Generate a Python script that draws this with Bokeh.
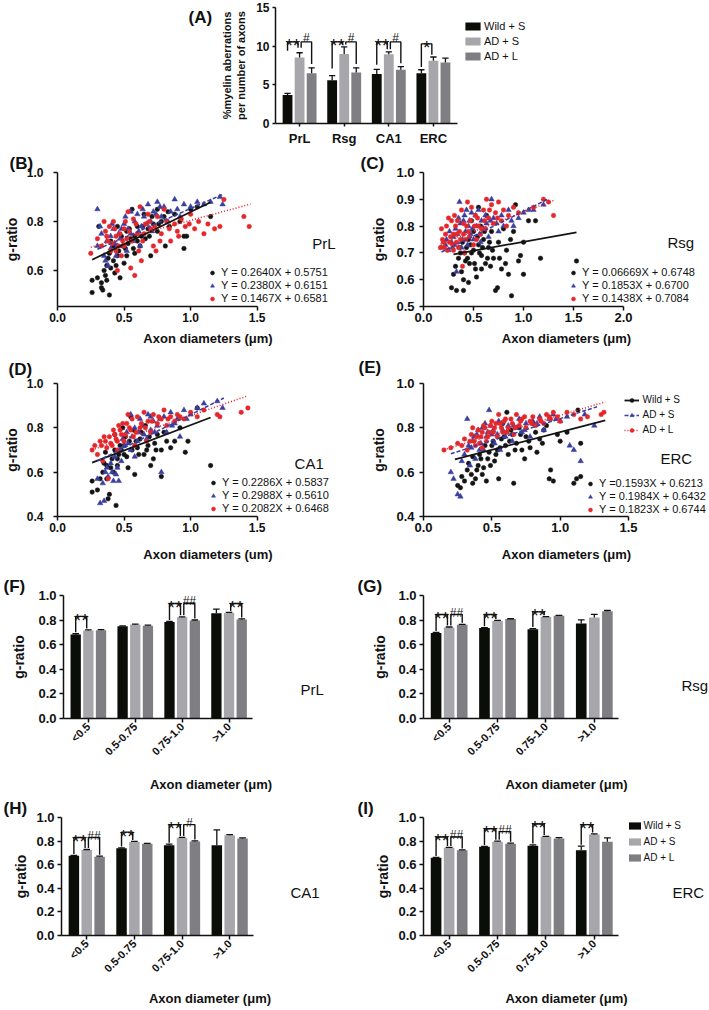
import math
from bokeh.plotting import figure
from bokeh.layouts import column, row
from bokeh.models import Legend, LegendItem, Label, FixedTicker, Range1d
from bokeh.embed import file_html
from bokeh.resources import INLINE
from bokeh.core.properties import value

FONT = "Liberation Sans"
INK = "#111111"
BAR_COLORS = ["#0b0d09", "#a6a6ab", "#7f7f83"]
SC_COLORS = ["#141414", "#3a3f9e", "#e5262b"]
GROUPS = ["Wild + S", "AD + S", "AD + L"]

# ---------------- Panel A: % myelin aberrations ----------------
regions = ["PrL", "Rsg", "CA1", "ERC"]
a_wild = [3.7, 5.6, 6.4, 6.5]
a_wild_err = [0.2, 0.6, 0.6, 0.45]
a_ads = [8.55, 9.0, 8.95, 8.1]
a_ads_err = [0.6, 0.9, 0.3, 0.5]
a_adl = [6.5, 6.6, 6.95, 7.9]
a_adl_err = [0.7, 0.6, 0.4, 0.55]
a_yticks = [0, 5, 10, 15]
a_ylabels = ["0", "5", "10", "15"]
# (group, bar i, bar j, symbol, bracket top, left leg end, right leg end)
a_sig = [(0, 0, 1, "**", 10.55, 9.4, 9.8), (0, 1, 2, "#", 10.55, 9.8, 7.7),
         (1, 0, 1, "**", 10.55, 7.1, 10.2), (1, 1, 2, "#", 10.55, 10.2, 7.7),
         (2, 0, 1, "**", 10.55, 7.6, 9.6), (2, 1, 2, "#", 10.55, 9.6, 7.8),
         (3, 0, 1, "*", 10.3, 7.3, 8.9)]

# ---------------- Scatter panels (g-ratio vs axon diameter) ----------------
b_wild = [(0.26,0.51),(0.26,0.56),(0.30,0.57),(0.33,0.55),(0.33,0.53),(0.34,0.52),(0.37,0.56),(0.39,0.50),
          (0.35,0.60),(0.37,0.62),(0.40,0.61),(0.38,0.65),(0.42,0.64),(0.44,0.62),(0.47,0.57),(0.50,0.63),
          (0.52,0.66),(0.46,0.68),(0.49,0.70),(0.53,0.71),(0.57,0.69),(0.60,0.72),(0.63,0.74),(0.66,0.73),
          (0.68,0.77),(0.72,0.79),(0.75,0.76),(0.78,0.80),(0.80,0.82),(0.84,0.78),(0.88,0.83),(0.92,0.80),
          (0.95,0.74),(0.97,0.74),(1.05,0.86),(1.00,0.85),(0.95,0.69),(0.81,0.70),(0.56,0.85),(0.45,0.78),
          (0.60,0.78),(0.70,0.66),(0.52,0.76),(0.58,0.67),(0.31,0.78),(0.40,0.72),(0.75,0.85),(1.15,0.82),
          (0.65,0.83),(0.55,0.73),(0.42,0.70),(0.45,0.66),(0.48,0.74),(0.51,0.69),(0.54,0.77),(0.58,0.74),
          (0.62,0.70),(0.64,0.78),(0.69,0.74),(0.71,0.82),(0.76,0.79),(0.83,0.84),(0.39,0.67),(0.36,0.58),
          (0.43,0.59)]
b_ads = [(0.30,0.85),(0.32,0.78),(0.30,0.70),(0.35,0.66),(0.38,0.62),(0.40,0.74),(0.42,0.77),(0.45,0.70),
         (0.47,0.73),(0.50,0.79),(0.52,0.68),(0.55,0.75),(0.58,0.80),(0.60,0.83),(0.63,0.78),(0.65,0.82),
         (0.68,0.87),(0.70,0.80),(0.72,0.84),(0.75,0.88),(0.78,0.82),(0.80,0.86),(0.83,0.80),(0.85,0.84),
         (0.88,0.89),(0.90,0.85),(0.92,0.82),(0.95,0.87),(1.00,0.86),(1.05,0.88),(1.10,0.87),(1.15,0.88),
         (1.22,0.90),(1.24,0.87),(0.36,0.64),(0.44,0.66),(0.55,0.84),(0.62,0.70),(0.48,0.77),(0.40,0.69),
         (0.37,0.72),(0.41,0.79),(0.43,0.71),(0.46,0.75),(0.49,0.70),(0.51,0.82),(0.53,0.77),(0.57,0.72),
         (0.61,0.76),(0.64,0.85),(0.67,0.79),(0.71,0.76),(0.74,0.83),(0.77,0.86),(0.33,0.75)]
b_adl = [(0.25,0.67),(0.30,0.73),(0.33,0.70),(0.36,0.76),(0.38,0.72),(0.40,0.68),(0.42,0.80),(0.44,0.74),
         (0.46,0.70),(0.48,0.66),(0.50,0.77),(0.52,0.73),(0.55,0.61),(0.57,0.81),(0.60,0.75),(0.62,0.86),
         (0.64,0.72),(0.66,0.79),(0.68,0.83),(0.70,0.77),(0.72,0.70),(0.75,0.82),(0.78,0.75),(0.80,0.85),
         (0.82,0.80),(0.85,0.72),(0.88,0.79),(0.90,0.76),(0.93,0.81),(0.96,0.78),(1.00,0.83),(1.03,0.77),
         (1.06,0.80),(1.10,0.75),(1.13,0.79),(1.18,0.77),(1.22,0.78),(1.25,0.89),(1.40,0.82),(1.44,0.78),
         (0.45,0.60),(0.58,0.58),(0.63,0.64),(0.35,0.80),(0.53,0.84),(0.74,0.68),(0.43,0.77),(0.49,0.72),
         (0.37,0.74),(0.39,0.78),(0.41,0.71),(0.44,0.68),(0.47,0.75),(0.50,0.70),(0.51,0.80),(0.54,0.76),
         (0.56,0.72),(0.59,0.79),(0.61,0.68),(0.65,0.75),(0.69,0.80),(0.73,0.78),(0.77,0.72),(0.84,0.77),
         (0.91,0.74),(0.99,0.79)]
b_fits = [(0.2640, 0.5751, 0.26, 1.15), (0.2380, 0.6151, 0.30, 1.25), (0.1467, 0.6581, 0.25, 1.45)]
b_eqs = ["Y = 0.2640X + 0.5751", "Y = 0.2380X + 0.6151", "Y = 0.1467X + 0.6581"]

c_wild = [(0.28,0.57),(0.30,0.62),(0.32,0.65),(0.33,0.56),(0.35,0.68),(0.37,0.70),(0.38,0.63),(0.40,0.56),
          (0.40,0.60),(0.42,0.67),(0.43,0.72),(0.45,0.75),(0.46,0.66),(0.48,0.70),(0.50,0.78),(0.52,0.64),
          (0.53,0.61),(0.55,0.73),(0.57,0.80),(0.58,0.69),(0.60,0.75),(0.62,0.66),(0.63,0.84),(0.65,0.72),
          (0.67,0.65),(0.68,0.78),(0.70,0.68),(0.72,0.56),(0.74,0.57),(0.75,0.74),(0.78,0.64),(0.80,0.79),
          (0.82,0.66),(0.85,0.62),(0.87,0.75),(0.88,0.54),(0.90,0.78),(0.92,0.88),(0.95,0.67),(0.97,0.69),
          (1.00,0.62),(1.00,0.74),(1.05,0.82),(1.12,0.82),(1.17,0.68),(1.53,0.67),(0.48,0.82),(0.55,0.87),
          (0.58,0.64),(0.45,0.59),(0.36,0.72),(0.39,0.74),(0.41,0.70),(0.44,0.68),(0.47,0.73),(0.50,0.71),
          (0.51,0.66),(0.54,0.76),(0.56,0.70),(0.59,0.72),(0.61,0.78),(0.64,0.68),(0.66,0.74),(0.69,0.71),
          (0.76,0.68),(0.83,0.71)]
c_ads = [(0.18,0.72),(0.22,0.73),(0.25,0.71),(0.28,0.74),(0.30,0.76),(0.32,0.79),(0.35,0.83),(0.36,0.89),
         (0.40,0.82),(0.42,0.78),(0.45,0.80),(0.48,0.85),(0.50,0.75),(0.52,0.84),(0.55,0.86),(0.58,0.82),
         (0.60,0.79),(0.63,0.81),(0.65,0.76),(0.68,0.90),(0.70,0.83),(0.73,0.81),(0.75,0.78),(0.78,0.84),
         (0.80,0.80),(0.85,0.86),(0.88,0.82),(0.90,0.80),(0.95,0.83),(1.00,0.85),(1.05,0.86),(1.10,0.86),
         (1.20,0.88),(0.33,0.63),(0.38,0.72),(0.47,0.77),(0.57,0.74),(0.43,0.86),(0.23,0.75),(0.26,0.78),
         (0.29,0.72),(0.31,0.73),(0.34,0.77),(0.37,0.81),(0.39,0.75),(0.41,0.84),(0.44,0.73),(0.46,0.82),
         (0.49,0.79),(0.53,0.80),(0.56,0.77),(0.62,0.84),(0.67,0.82)]
c_adl = [(0.17,0.72),(0.18,0.79),(0.20,0.74),(0.22,0.77),(0.24,0.71),(0.25,0.83),(0.28,0.82),(0.29,0.73),
         (0.30,0.77),(0.32,0.80),(0.33,0.74),(0.35,0.72),(0.36,0.78),(0.38,0.86),(0.39,0.65),(0.40,0.81),
         (0.42,0.75),(0.44,0.89),(0.45,0.78),(0.47,0.82),(0.50,0.73),(0.52,0.84),(0.55,0.80),(0.57,0.77),
         (0.60,0.86),(0.62,0.79),(0.65,0.83),(0.68,0.88),(0.70,0.81),(0.72,0.85),(0.75,0.89),(0.78,0.82),
         (0.80,0.86),(0.83,0.80),(0.85,0.84),(0.90,0.87),(0.95,0.85),(1.10,0.87),(1.20,0.90),(1.25,0.89),
         (1.30,0.84),(0.27,0.76),(0.41,0.70),(0.53,0.75),(0.63,0.90),(0.31,0.84),(0.19,0.75),(0.21,0.72),
         (0.23,0.80),(0.26,0.74),(0.30,0.71),(0.33,0.77),(0.34,0.82),(0.37,0.75),(0.40,0.77),(0.43,0.80),
         (0.46,0.76),(0.48,0.87),(0.51,0.80),(0.54,0.83),(0.58,0.79),(0.61,0.82),(0.66,0.86),(0.74,0.83)]
c_fits = [(0.06669, 0.6748, 0.30, 1.53), (0.1853, 0.6700, 0.18, 1.25), (0.1438, 0.7084, 0.17, 1.30)]
c_eqs = ["Y = 0.06669X + 0.6748", "Y = 0.1853X + 0.6700", "Y = 0.1438X + 0.7084"]

d_wild = [(0.26,0.51),(0.26,0.56),(0.30,0.52),(0.32,0.57),(0.34,0.60),(0.35,0.64),(0.37,0.57),(0.38,0.48),
          (0.39,0.50),(0.40,0.62),(0.42,0.60),(0.44,0.45),(0.45,0.66),(0.46,0.68),(0.48,0.70),(0.50,0.72),
          (0.52,0.67),(0.54,0.74),(0.55,0.85),(0.57,0.79),(0.58,0.59),(0.60,0.71),(0.62,0.75),(0.65,0.68),
          (0.68,0.72),(0.70,0.63),(0.72,0.66),(0.75,0.77),(0.78,0.58),(0.78,0.70),(0.80,0.78),(0.85,0.71),
          (0.88,0.74),(0.92,0.80),(0.96,0.69),(0.98,0.74),(1.05,0.89),(1.15,0.63),(0.49,0.80),(0.43,0.77),
          (0.66,0.81),(0.36,0.69),(0.53,0.62),(0.73,0.73),(0.41,0.66),(0.43,0.70),(0.45,0.63),(0.47,0.72),
          (0.50,0.68),(0.51,0.76),(0.56,0.70),(0.59,0.74),(0.61,0.68),(0.63,0.78),(0.67,0.70),(0.69,0.76),
          (0.74,0.70),(0.82,0.74),(0.37,0.63)]
d_ads = [(0.30,0.57),(0.32,0.46),(0.35,0.47),(0.36,0.60),(0.38,0.58),(0.40,0.64),(0.42,0.56),(0.44,0.59),
         (0.46,0.56),(0.48,0.65),(0.50,0.72),(0.52,0.78),(0.55,0.70),(0.58,0.80),(0.60,0.74),(0.62,0.84),
         (0.65,0.77),(0.68,0.86),(0.70,0.79),(0.72,0.83),(0.75,0.81),(0.78,0.60),(0.80,0.85),(0.82,0.78),
         (0.85,0.87),(0.88,0.82),(0.90,0.84),(0.95,0.88),(1.00,0.86),(1.05,0.89),(1.10,0.91),(1.20,0.92),
         (1.24,0.89),(0.55,0.86),(0.45,0.62),(0.70,0.85),(0.92,0.76),(0.58,0.67),(0.34,0.55),(0.37,0.62),
         (0.41,0.60),(0.43,0.67),(0.47,0.70),(0.49,0.75),(0.53,0.73),(0.56,0.76),(0.61,0.78),(0.64,0.81),
         (0.67,0.75),(0.73,0.78),(0.77,0.84),(0.86,0.81),(0.97,0.84)]
d_adl = [(0.26,0.70),(0.28,0.72),(0.30,0.68),(0.32,0.74),(0.35,0.76),(0.37,0.71),(0.38,0.57),(0.40,0.73),
         (0.42,0.79),(0.44,0.75),(0.46,0.81),(0.48,0.77),(0.50,0.74),(0.52,0.82),(0.55,0.79),(0.57,0.76),
         (0.60,0.85),(0.62,0.80),(0.65,0.87),(0.68,0.83),(0.70,0.78),(0.72,0.86),(0.75,0.82),(0.78,0.84),
         (0.80,0.88),(0.82,0.81),(0.85,0.85),(0.88,0.83),(0.90,0.86),(0.95,0.84),(1.00,0.87),(1.05,0.85),
         (1.10,0.88),(1.20,0.86),(1.22,0.85),(1.38,0.87),(1.43,0.89),(0.45,0.70),(0.58,0.72),(0.67,0.74),
         (0.34,0.65),(0.53,0.86),(0.33,0.72),(0.36,0.74),(0.39,0.76),(0.41,0.72),(0.43,0.77),(0.45,0.74),
         (0.47,0.79),(0.49,0.82),(0.51,0.77),(0.54,0.80),(0.56,0.84),(0.59,0.78),(0.63,0.82),(0.66,0.80),
         (0.71,0.83),(0.76,0.85),(0.83,0.84),(0.92,0.85)]
d_fits = [(0.2286, 0.5837, 0.26, 1.15), (0.2988, 0.5610, 0.30, 1.25), (0.2082, 0.6468, 0.26, 1.43)]
d_eqs = ["Y = 0.2286X + 0.5837", "Y = 0.2988X + 0.5610", "Y = 0.2082X + 0.6468"]

e_wild = [(0.25,0.54),(0.27,0.53),(0.28,0.58),(0.30,0.56),(0.32,0.61),(0.33,0.64),(0.35,0.59),(0.36,0.55),
          (0.38,0.57),(0.40,0.63),(0.42,0.66),(0.44,0.62),(0.46,0.56),(0.48,0.69),(0.50,0.72),(0.52,0.65),
          (0.54,0.70),(0.55,0.57),(0.57,0.75),(0.60,0.72),(0.61,0.87),(0.62,0.68),(0.65,0.77),(0.66,0.55),
          (0.68,0.73),(0.70,0.80),(0.72,0.70),(0.75,0.76),(0.78,0.71),(0.80,0.82),(0.83,0.69),(0.85,0.75),
          (0.88,0.79),(0.90,0.81),(0.92,0.57),(0.93,0.61),(0.95,0.56),(0.98,0.77),(1.00,0.74),(1.05,0.78),
          (1.10,0.55),(1.12,0.57),(1.15,0.73),(1.15,0.58),(1.13,0.88),(0.58,0.82),(0.45,0.72),(0.74,0.66),
          (0.36,0.67),(0.64,0.79),(0.39,0.61),(0.41,0.68),(0.43,0.59),(0.47,0.66),(0.49,0.63),(0.51,0.74),
          (0.53,0.68),(0.56,0.71),(0.59,0.76),(0.63,0.74),(0.67,0.70),(0.71,0.77),(0.77,0.74),(0.82,0.78),
          (0.87,0.73)]
e_ads = [(0.20,0.60),(0.22,0.57),(0.25,0.50),(0.27,0.49),(0.28,0.65),(0.30,0.68),(0.32,0.84),(0.35,0.71),
         (0.37,0.76),(0.38,0.66),(0.40,0.79),(0.42,0.73),(0.44,0.70),(0.45,0.82),(0.48,0.88),(0.50,0.77),
         (0.52,0.73),(0.55,0.83),(0.58,0.79),(0.60,0.76),(0.62,0.81),(0.65,0.74),(0.68,0.80),(0.70,0.84),
         (0.72,0.78),(0.75,0.82),(0.78,0.76),(0.80,0.83),(0.85,0.85),(0.88,0.79),(0.92,0.84),(0.95,0.86),
         (1.00,0.83),(1.05,0.85),(1.07,0.72),(1.10,0.70),(1.15,0.65),(1.18,0.86),(1.25,0.81),(0.34,0.63),
         (0.56,0.70),(0.47,0.78),(0.33,0.72),(0.36,0.74),(0.39,0.77),(0.41,0.70),(0.43,0.80),(0.46,0.76),
         (0.49,0.81),(0.51,0.79),(0.54,0.77),(0.57,0.82),(0.61,0.78),(0.66,0.81),(0.74,0.79),(0.83,0.82),
         (0.97,0.84)]
e_adl = [(0.15,0.70),(0.20,0.71),(0.25,0.73),(0.28,0.72),(0.30,0.75),(0.32,0.70),(0.35,0.77),(0.37,0.74),
         (0.38,0.72),(0.40,0.79),(0.42,0.76),(0.44,0.81),(0.46,0.74),(0.48,0.78),(0.50,0.83),(0.52,0.80),
         (0.54,0.76),(0.56,0.82),(0.58,0.78),(0.60,0.84),(0.62,0.80),(0.65,0.82),(0.68,0.86),(0.70,0.81),
         (0.72,0.84),(0.75,0.80),(0.78,0.83),(0.80,0.85),(0.82,0.81),(0.85,0.84),(0.88,0.82),(0.90,0.86),
         (0.93,0.84),(0.95,0.87),(0.98,0.85),(1.00,0.83),(1.05,0.87),(1.10,0.86),(1.15,0.84),(1.20,0.85),
         (1.30,0.86),(1.32,0.87),(0.43,0.71),(0.36,0.80),(0.55,0.86),(0.66,0.77),(0.34,0.74),(0.39,0.76),
         (0.41,0.73),(0.43,0.78),(0.45,0.80),(0.47,0.76),(0.49,0.81),(0.51,0.78),(0.53,0.82),(0.57,0.80),
         (0.59,0.83),(0.61,0.78),(0.64,0.84),(0.67,0.80),(0.71,0.83),(0.74,0.85),(0.79,0.82),(0.86,0.83),
         (0.92,0.85)]
e_fits = [(0.1593, 0.6213, 0.23, 1.33), (0.1984, 0.6432, 0.20, 1.27), (0.1823, 0.6744, 0.15, 1.33)]
e_eqs = ["Y =0.1593X + 0.6213", "Y = 0.1984X + 0.6432", "Y = 0.1823X + 0.6744"]

# ---------------- Bar panels F-I (g-ratio by axon diameter bin) ----------------
bins = ["<0.5", "0.5-0.75", "0.75-1.0", ">1.0"]
f_wild = [0.683, 0.750, 0.784, 0.855]; f_wild_err = [0.006, 0.003, 0.005, 0.035]
f_ads = [0.716, 0.764, 0.823, 0.858];  f_ads_err = [0.004, 0.004, 0.004, 0.004]
f_adl = [0.718, 0.755, 0.797, 0.805];  f_adl_err = [0.004, 0.004, 0.004, 0.005]
g_wild = [0.695, 0.735, 0.725, 0.772]; g_wild_err = [0.005, 0.004, 0.006, 0.030]
g_ads = [0.740, 0.793, 0.825, 0.822];  g_ads_err = [0.004, 0.004, 0.004, 0.025]
g_adl = [0.762, 0.808, 0.835, 0.872];  g_adl_err = [0.004, 0.003, 0.004, 0.006]
h_wild = [0.675, 0.740, 0.765, 0.765]; h_wild_err = [0.004, 0.003, 0.010, 0.130]
h_ads = [0.725, 0.793, 0.827, 0.850];  h_ads_err = [0.004, 0.004, 0.004, 0.005]
h_adl = [0.668, 0.778, 0.797, 0.822];  h_adl_err = [0.004, 0.003, 0.005, 0.005]
i_wild = [0.658, 0.752, 0.760, 0.723]; i_wild_err = [0.004, 0.003, 0.008, 0.035]
i_ads = [0.743, 0.795, 0.836, 0.855];  i_ads_err = [0.004, 0.004, 0.004, 0.006]
i_adl = [0.722, 0.778, 0.823, 0.795];  i_adl_err = [0.004, 0.004, 0.006, 0.032]
f_sig = [(0, 0, 1, "**", 0.83, None, None), (2, 0, 1, "**", 0.935, None, None),
         (2, 1, 2, "##", 0.935, None, None), (3, 1, 2, "**", 0.935, None, None)]
g_sig = [(0, 0, 1, "**", 0.845, None, None), (0, 1, 2, "##", 0.845, None, None),
         (1, 0, 1, "**", 0.845, None, None), (2, 0, 1, "**", 0.867, None, None)]
h_sig = [(0, 0, 1, "**", 0.83, None, None), (0, 1, 2, "##", 0.83, None, None),
         (1, 0, 1, "**", 0.876, None, None), (2, 0, 1, "**", 0.94, None, None),
         (2, 1, 2, "#", 0.94, None, None)]
i_sig = [(0, 0, 1, "**", 0.835, None, None), (0, 1, 2, "##", 0.835, None, None),
         (1, 0, 1, "**", 0.905, None, None), (1, 1, 2, "##", 0.88, None, None),
         (2, 0, 1, "**", 0.945, None, None), (3, 0, 1, "**", 0.94, None, None)]
g_ticks = [0.0, 0.2, 0.4, 0.6, 0.8, 1.0]
g_tick_labels = ["0.0", "0.2", "0.4", "0.6", "0.8", "1.0"]


# ---------------- helpers ----------------
def make_fig(geom, xr, yr):
    """Frame starts at the axis position and runs to the right edge of the figure;
    the x axis itself is bounded to xr."""
    L, T, W, H, FL, FT, FW, FH = geom
    FWx = L + W - FL
    xr_full = (xr[0], xr[0] + (xr[1] - xr[0]) * FWx / FW)
    p = figure(width=W, height=H, x_range=Range1d(*xr_full), y_range=Range1d(*yr),
               output_backend="svg", toolbar_location=None,
               min_border_left=FL - L, min_border_top=FT - T,
               min_border_right=0, min_border_bottom=T + H - FT - FH)
    p.outline_line_color = None
    p.xgrid.visible = False
    p.ygrid.visible = False
    p.border_fill_color = "white"
    p.background_fill_color = "white"
    p.xaxis[0].bounds = xr

    def conv(X, Y):
        return (xr[0] + (X - FL) / FW * (xr[1] - xr[0]),
                yr[1] - (Y - FT) / FH * (yr[1] - yr[0]))
    return p, conv


def style_axis(ax, tick_size, tick_std, label_size="13px", label_std=0, tick_out=4):
    ax.axis_line_color = INK
    ax.axis_line_width = 1.5
    ax.major_tick_line_color = INK
    ax.major_tick_line_width = 1.5
    ax.major_tick_out = tick_out
    ax.major_tick_in = 0
    ax.minor_tick_line_color = None
    ax.major_label_text_font = FONT
    ax.major_label_text_font_style = "bold"
    ax.major_label_text_font_size = tick_size
    ax.major_label_text_color = INK
    ax.major_label_standoff = tick_std
    ax.axis_label_text_font = FONT
    ax.axis_label_text_font_style = "bold"
    ax.axis_label_text_font_size = label_size
    ax.axis_label_text_color = INK
    ax.axis_label_standoff = label_std


def set_ticks(ax, ticks, labels):
    ax.ticker = FixedTicker(ticks=ticks)
    ax.major_label_overrides = {t: s for t, s in zip(ticks, labels)}


def add_text(p, conv, X, Y, text, size, bold=False, align="left", baseline="middle"):
    x, y = conv(X, Y)
    p.add_layout(Label(x=x, y=y, text=text, text_font=FONT, text_font_size=size,
                       text_font_style="bold" if bold else "normal", text_color=INK,
                       text_align=align, text_baseline=baseline))


def set_letter(p, geom, letter, X, standoff):
    L, T, W, H, FL, FT, FW, FH = geom
    p.title.text = letter
    p.title.align = "left"
    p.title.offset = X - FL
    p.title.standoff = standoff
    p.title.text_font = FONT
    p.title.text_font_size = "17px"
    p.title.text_font_style = "bold"
    p.title.text_color = INK


def add_legend(p, geom, items, left, top, pitch, gw, gh, std, size):
    L, T, W, H, FL, FT, FW, FH = geom
    n = len(items)
    leg = Legend(items=items, location=(left - FL, (FT + FH) - (top + n * pitch)),
                 padding=0, margin=0, spacing=0, glyph_width=gw, glyph_height=gh,
                 label_height=pitch, label_standoff=std, label_text_font=FONT,
                 label_text_font_size=size, label_text_color=INK,
                 border_line_color=None, background_fill_alpha=0)
    p.add_layout(leg)


OFFS = [-0.27, 0.0, 0.27]
BW = 0.22


def draw_bars(p, vals, errs, cap):
    rs = []
    for k in range(3):
        xs = [g + OFFS[k] for g in range(len(vals[k]))]
        r = p.vbar(x=xs, top=vals[k], bottom=0, width=BW, fill_color=BAR_COLORS[k], line_color=None)
        ys = [v + e for v, e in zip(vals[k], errs[k])]
        p.segment(x0=xs, y0=vals[k], x1=xs, y1=ys, line_color=INK, line_width=1.3)
        p.segment(x0=[x - cap for x in xs], y0=ys, x1=[x + cap for x in xs], y1=ys,
                  line_color=INK, line_width=1.3)
        rs.append(r)
    return rs


def draw_sig(p, vals, errs, specs, gap, star_size, hash_size, star_off, hash_off):
    mxs, mys = [], []
    st_x, st_y, st_t, hs_x, hs_y, hs_t = [], [], [], [], [], []
    for (g, i, j, sym, top, yl, yr_) in specs:
        xl = g + OFFS[i] + (0.035 if i == 1 else 0.0)
        xr_ = g + OFFS[j] - (0.035 if j == 1 else 0.0)
        if yl is None:
            yl = vals[i][g] + errs[i][g] + gap
        if yr_ is None:
            yr_ = vals[j][g] + errs[j][g] + gap
        mxs.append([xl, xl, xr_, xr_])
        mys.append([yl, top, top, yr_])
        if "*" in sym:
            st_x.append((xl + xr_) / 2); st_y.append(top); st_t.append(sym)
        else:
            hs_x.append((xl + xr_) / 2); hs_y.append(top); hs_t.append(sym)
    p.multi_line(xs=mxs, ys=mys, line_color=INK, line_width=1.4)
    if st_x:
        p.text(x=st_x, y=st_y, text=st_t, text_font=value(FONT), text_font_size=star_size,
               text_align="center", text_baseline="alphabetic", y_offset=star_off, text_color=INK)
    if hs_x:
        p.text(x=hs_x, y=hs_y, text=hs_t, text_font=value(FONT), text_font_size=hash_size,
               text_align="center", text_baseline="alphabetic", y_offset=hash_off, text_color=INK)


# ---------------- Panel A ----------------
pAl = figure(width=215, height=149, x_range=Range1d(0, 215), y_range=Range1d(149, 0),
             x_axis_type=None, y_axis_type=None, output_backend="svg", toolbar_location=None,
             min_border=0)
pAl.outline_line_color = None
pAl.xgrid.visible = False
pAl.ygrid.visible = False
pAl.text(x=[188], y=[13], text=["(A)"], text_font=value(FONT), text_font_size="17px",
         text_font_style="bold", text_align="left", text_baseline="middle", text_color=INK)

geomA = (215, 0, 494, 149, 275, 7, 182, 116)
pA, cA = make_fig(geomA, (-0.54, 3.54), (0, 15))
a_vals = [a_wild, a_ads, a_adl]
a_errs = [a_wild_err, a_ads_err, a_adl_err]
a_rs = draw_bars(pA, a_vals, a_errs, 0.07)
draw_sig(pA, a_vals, a_errs, a_sig, 0.3, "19px", "12px", 4, -4)
style_axis(pA.xaxis[0], "13px", 4, tick_out=3)
style_axis(pA.yaxis[0], "12px", 3, "11px", 6, tick_out=3)
set_ticks(pA.xaxis[0], [0, 1, 2, 3], regions)
set_ticks(pA.yaxis[0], a_yticks, a_ylabels)
pA.yaxis[0].axis_label = "%myelin aberrations\nper number of axons"
add_legend(pA, geomA, [LegendItem(label=GROUPS[k], renderers=[a_rs[k]]) for k in range(3)],
           463, 18.5, 15, 19, 10, 2, "11px")


# ---------------- scatter panels ----------------
def scatter_panel(geom, xr, yr, xt, xtl, yt, ytl, series, fits, eqs, eq_left, eq_top, eq_pitch, eq_size,
                  name, name_xy, letter, letter_x, letter_std, xlabel, tick_size, y_std, y_lstd, x_lstd):
    p, conv = make_fig(geom, xr, yr)
    sc = []
    markers = ["circle", "triangle", "circle"]
    sizes = [4.5, 5.5, 4.5]
    for k in range(3):
        xs = [t[0] for t in series[k]]
        ys = [t[1] for t in series[k]]
        sc.append(p.scatter(xs, ys, marker=markers[k], size=sizes[k], fill_color=SC_COLORS[k],
                            line_color=SC_COLORS[k], line_width=0.5))
    dashes = ["solid", "4 2", "1 2"]
    widths = [1.8, 1.5, 1.6]
    lines = []
    for k in range(3):
        s, b, x0, x1 = fits[k]
        lines.append(p.line([x0, x1], [s * x0 + b, s * x1 + b], line_color=SC_COLORS[k],
                            line_width=widths[k], line_dash=dashes[k]))
    style_axis(p.xaxis[0], tick_size, 2, "13px", x_lstd)
    style_axis(p.yaxis[0], tick_size, y_std, "14px", y_lstd)
    set_ticks(p.xaxis[0], xt, xtl)
    set_ticks(p.yaxis[0], yt, ytl)
    p.xaxis[0].axis_label = xlabel
    p.yaxis[0].axis_label = "g-ratio"
    add_legend(p, geom, [LegendItem(label=eqs[k], renderers=[sc[k]]) for k in range(3)],
               eq_left, eq_top, eq_pitch, 10, 13, 4, eq_size)
    add_text(p, conv, name_xy[0], name_xy[1], name, "15px")
    set_letter(p, geom, letter, letter_x, letter_std)
    return p, sc, lines


xt15 = [0.0, 0.5, 1.0, 1.5]; xtl15 = ["0.0", "0.5", "1.0", "1.5"]
xt20 = [0.0, 0.5, 1.0, 1.5, 2.0]; xtl20 = ["0.0", "0.5", "1.0", "1.5", "2.0"]

geomB = (0, 149, 358, 199, 52, 171, 203, 135)
pB, _, _ = scatter_panel(geomB, (0, 1.5), (0.453, 1.0), xt15, xtl15, [0.6, 0.8, 1.0], ["0.6", "0.8", "1.0"],
                         [b_wild, b_ads, b_adl], b_fits, b_eqs, 202, 265.5, 13, "11px",
                         "PrL", (311, 243), "(B)", 4, 0, "Axon diameters (\u03bcm)", "12px", 10, 4, 6)

geomC = (358, 149, 351, 199, 423, 172, 200, 134)
pC, _, _ = scatter_panel(geomC, (0, 2.0), (0.5, 1.0), xt20, xtl20,
                         [0.5, 0.6, 0.7, 0.8, 0.9, 1.0], ["0.5", "0.6", "0.7", "0.8", "0.9", "1.0"],
                         [c_wild, c_ads, c_adl], c_fits, c_eqs, 568, 265.5, 13, "11px",
                         "Rsg", (667, 242), "(C)", 360, 0, "Axon diameters (\u03bcm)", "13px", 5, 6, 6)

geomD = (0, 348, 358, 216, 52, 379, 203, 138)
pD, _, _ = scatter_panel(geomD, (0, 1.5), (0.4, 1.0), xt15, xtl15, [0.4, 0.6, 0.8, 1.0],
                         ["0.4", "0.6", "0.8", "1.0"],
                         [d_wild, d_ads, d_adl], d_fits, d_eqs, 203, 476.5, 13, "11px",
                         "CA1", (293, 462), "(D)", 3, 10, "Axon diameters (um)", "12px", 10, 4, 12)

geomE = (358, 348, 351, 216, 423, 382, 205, 135)
pE, scE, linesE = scatter_panel(geomE, (0, 1.5), (0.4, 1.0), xt15, xtl15, [0.4, 0.6, 0.8, 1.0],
                                ["0.4", "0.6", "0.8", "1.0"],
                                [e_wild, e_ads, e_adl], e_fits, e_eqs, 585, 477.5, 13, "11px",
                                "ERC", (660, 458), "(E)", 358, 14, "Axon diameters (\u03bcm)", "13px", 5, 6, 12)
add_legend(pE, geomE, [LegendItem(label=GROUPS[k], renderers=[linesE[k], scE[k]]) for k in range(3)],
           623.5, 393, 15, 15, 10, 4, "10px")


# ---------------- bar panels ----------------
def bar_panel(geom, vals, errs, sig, name, name_xy, letter, letter_x, y_std, y_lstd, x_lstd):
    p, conv = make_fig(geom, (-0.53, 3.5), (0, 1.0))
    rs = draw_bars(p, vals, errs, 0.07)
    draw_sig(p, vals, errs, sig, 0.012, "19px", "12px", 4, -2)
    style_axis(p.xaxis[0], "11px", 2, "13px", x_lstd)
    style_axis(p.yaxis[0], "13px", y_std, "14px", y_lstd)
    set_ticks(p.xaxis[0], [0, 1, 2, 3], bins)
    set_ticks(p.yaxis[0], g_ticks, g_tick_labels)
    p.xaxis[0].major_label_orientation = math.pi / 4
    p.xaxis[0].axis_label = "Axon diameter (\u03bcm)"
    p.yaxis[0].axis_label = "g-ratio"
    add_text(p, conv, name_xy[0], name_xy[1], name, "15px")
    set_letter(p, geom, letter, letter_x, 0)
    return p, rs


geomF = (0, 564, 358, 230, 63, 595, 189, 127)
pF, _ = bar_panel(geomF, [f_wild, f_ads, f_adl], [f_wild_err, f_ads_err, f_adl_err], f_sig,
                  "PrL", (300, 692), "(F)", 3, 3, 8, 12)
geomG = (358, 564, 351, 230, 423, 595, 195, 127)
pG, _ = bar_panel(geomG, [g_wild, g_ads, g_adl], [g_wild_err, g_ads_err, g_adl_err], g_sig,
                  "Rsg", (681, 688), "(G)", 357, 3, 7, 12)
geomH = (0, 794, 358, 214, 61, 817, 192, 126)
pH, _ = bar_panel(geomH, [h_wild, h_ads, h_adl], [h_wild_err, h_ads_err, h_adl_err], h_sig,
                  "CA1", (290, 897), "(H)", 3, 3, 4, 9)
geomI = (358, 794, 351, 214, 423, 817, 195, 126)
pI, rsI = bar_panel(geomI, [i_wild, i_ads, i_adl], [i_wild_err, i_ads_err, i_adl_err], i_sig,
                    "ERC", (672, 897), "(I)", 357, 3, 4, 9)
add_legend(pI, geomI, [LegendItem(label=GROUPS[k], renderers=[rsI[k]]) for k in range(3)],
           626.5, 825, 16, 15, 9, 2, "10px")

layout = column(row(pAl, pA), row(pB, pC), row(pD, pE), row(pF, pG), row(pH, pI))
open("out.html", "w").write(file_html(layout, INLINE))
